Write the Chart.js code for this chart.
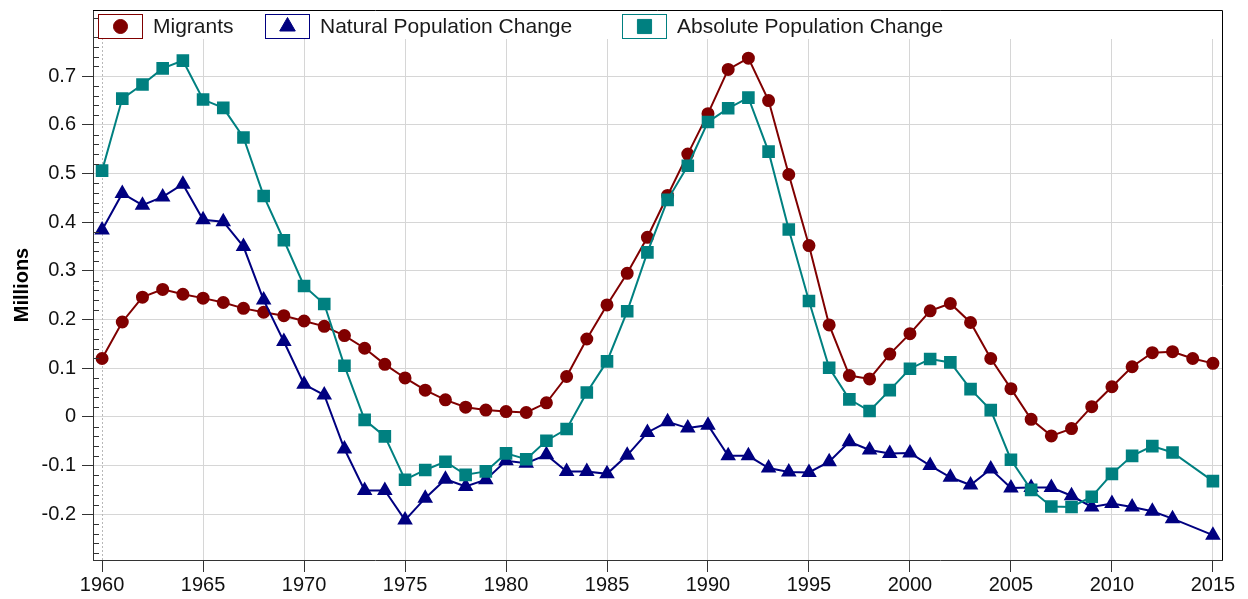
<!DOCTYPE html>
<html><head><meta charset="utf-8">
<script src="https://cdn.jsdelivr.net/npm/chart.js@4/dist/chart.umd.min.js"></script>
<style>html,body{margin:0;padding:0;background:#fff;}</style>
</head><body>
<canvas id="c" width="1248" height="599"></canvas>
<script>
const years = [1960,1961,1962,1963,1964,1965,1966,1967,1968,1969,1970,1971,1972,1973,1974,1975,1976,1977,1978,1979,1980,1981,1982,1983,1984,1985,1986,1987,1988,1989,1990,1991,1992,1993,1994,1995,1996,1997,1998,1999,2000,2001,2002,2003,2004,2005,2006,2007,2008,2009,2010,2011,2012,2013,2014,2015];
const migrants = [0.120,0.195,0.246,0.262,0.252,0.244,0.235,0.223,0.215,0.208,0.197,0.186,0.167,0.141,0.108,0.080,0.055,0.035,0.020,0.014,0.011,0.009,0.029,0.083,0.160,0.230,0.295,0.369,0.455,0.540,0.623,0.714,0.737,0.650,0.498,0.352,0.189,0.085,0.078,0.129,0.171,0.218,0.233,0.194,0.120,0.058,-0.005,-0.039,-0.024,0.021,0.062,0.103,0.132,0.134,0.120,0.110];
const naturalChange = [0.384,0.459,0.435,0.452,0.478,0.405,0.401,0.350,0.240,0.155,0.067,0.045,-0.066,-0.151,-0.151,-0.212,-0.167,-0.128,-0.143,-0.129,-0.090,-0.095,-0.078,-0.112,-0.112,-0.117,-0.079,-0.032,-0.010,-0.023,-0.017,-0.080,-0.080,-0.105,-0.113,-0.114,-0.092,-0.051,-0.068,-0.075,-0.074,-0.100,-0.124,-0.140,-0.107,-0.146,-0.145,-0.145,-0.162,-0.185,-0.178,-0.185,-0.194,-0.209,null,-0.243];
const absoluteChange = [0.506,0.654,0.683,0.716,0.732,0.652,0.635,0.574,0.454,0.363,0.269,0.232,0.105,-0.006,-0.040,-0.129,-0.109,-0.092,-0.119,-0.112,-0.075,-0.087,-0.049,-0.025,0.050,0.114,0.217,0.338,0.446,0.516,0.606,0.634,0.656,0.545,0.385,0.238,0.101,0.036,0.012,0.055,0.099,0.119,0.112,0.057,0.014,-0.088,-0.150,-0.184,-0.185,-0.164,-0.117,-0.080,-0.060,-0.073,null,-0.132];
const seriesLabels = ['Migrants','Natural Population Change','Absolute Population Change'];
const xTickValues = [1960,1965,1970,1975,1980,1985,1990,1995,2000,2005,2010,2015];
const yTickValues = [-0.2,-0.1,0,0.1,0.2,0.3,0.4,0.5,0.6,0.7];
const yTitle = 'Millions';

const FONT = "'Liberation Sans', Arial, sans-serif";
const toPts = arr => years.map((y,i) => ({x:y, y:arr[i]}));

const frame = {
  id:'frame',
  beforeDatasetsDraw(chart){
    const {ctx, chartArea:a, scales} = chart;
    ctx.save();
    const x0 = Math.round(scales.x.getPixelForValue(1960))+0.5;
    ctx.strokeStyle = '#b8b8b8'; ctx.lineWidth = 1; ctx.setLineDash([2,2]);
    ctx.beginPath(); ctx.moveTo(x0, a.top); ctx.lineTo(x0, a.bottom); ctx.stroke();
    ctx.setLineDash([]);
    ctx.fillStyle = '#fff';
    ctx.fillRect(a.left+1, a.top+1, a.right-a.left-2, 28);
    ctx.restore();
  },
  afterDraw(chart){
    const {ctx, chartArea:a, scales} = chart;
    ctx.save();
    ctx.strokeStyle = '#000'; ctx.lineWidth = 1;
    ctx.beginPath();
    ctx.moveTo(a.left, Math.round(a.top)+0.5); ctx.lineTo(Math.round(a.right)+0.5, Math.round(a.top)+0.5);
    ctx.lineTo(Math.round(a.right)+0.5, a.bottom);
    ctx.stroke();
    ctx.strokeStyle = '#333';
    for (let k = -14; k <= 41; k++) {
      if (k % 5 === 0) continue;
      const v = k*0.02;
      const y = Math.round(scales.y.getPixelForValue(v))+0.5;
      if (y < a.top || y > a.bottom) continue;
      ctx.beginPath(); ctx.moveTo(a.left, y); ctx.lineTo(a.left+6, y); ctx.stroke();
    }
    const boxX = [98, 265, 622];
    const ds = chart.data.datasets;
    ctx.font = '21px ' + FONT;
    ctx.textBaseline = 'middle';
    ds.forEach((d,i) => {
      const bx = boxX[i], by = a.top + 4, bw = 44, bh = 24;
      ctx.fillStyle = '#fff';
      ctx.fillRect(bx, by, bw, bh);
      ctx.strokeStyle = d.borderColor; ctx.lineWidth = 1;
      ctx.strokeRect(bx+0.5, by+0.5, bw, bh);
      const cx = bx + bw/2 + 0.5, cy = by + bh/2 + 0.5;
      ctx.fillStyle = d.borderColor;
      Chart.helpers.drawPoint(ctx, {pointStyle: d.pointStyle, borderWidth: 1, rotation: 0, radius: d.legendRadius}, cx, cy);
      ctx.fillStyle = '#1a1a1a';
      ctx.fillText(d.label, bx + bw + 11, by + bh/2 + 1);
    });
    ctx.restore();
  }
};

new Chart(document.getElementById('c'), {
  type: 'line',
  data: {
    datasets: [
      {label: seriesLabels[0], data: toPts(migrants), borderColor:'#800000', backgroundColor:'#800000', pointBackgroundColor:'#800000', pointBorderColor:'#800000', pointStyle:'circle', pointRadius:5.5, legendRadius:7, borderWidth:2, order:2},
      {label: seriesLabels[1], data: toPts(naturalChange), borderColor:'#000080', backgroundColor:'#000080', pointBackgroundColor:'#000080', pointBorderColor:'#000080', pointStyle:'triangle', pointRadius:7, legendRadius:9, borderWidth:2, order:1},
      {label: seriesLabels[2], data: toPts(absoluteChange), borderColor:'#008080', backgroundColor:'#008080', pointBackgroundColor:'#008080', pointBorderColor:'#008080', pointStyle:'rect', pointRadius:7.5, legendRadius:10, borderWidth:2, order:0}
    ]
  },
  options: {
    responsive: false,
    animation: false,
    devicePixelRatio: 1,
    spanGaps: true,
    layout: {padding: {top:10, right:26, left:0, bottom:0}},
    plugins: {legend:{display:false}, tooltip:{enabled:false}},
    elements: {line:{tension:0}, point:{borderWidth:1}},
    scales: {
      x: {
        type:'linear', min:1959.55, max:2015.45,
        afterBuildTicks: s => { s.ticks = xTickValues.map(v => ({value:v})); },
        afterFit: s => { s.height = 39; s.paddingLeft = 0; s.paddingRight = 0; },
        ticks: {font:{family:FONT, size:20}, color:'#111', padding:1, maxRotation:0, autoSkip:false, callback: v => String(v)},
        grid: {color: c => (c.tick && c.tick.value === 1960) ? 'rgba(0,0,0,0)' : '#d6d6d6', tickColor:'#333', tickLength:12, lineWidth:1},
        border: {color:'#333', width:1}
      },
      y: {
        min:-0.294, max:0.836,
        afterBuildTicks: s => { s.ticks = yTickValues.map(v => ({value:v})); },
        afterFit: s => { s.width = 93; s.paddingTop = 0; s.paddingBottom = 0; },
        ticks: {font:{family:FONT, size:20}, color:'#111', padding:6, callback: v => String(Math.round(v*10)/10)},
        grid: {color:'#d6d6d6', tickColor:'#333', tickLength:11, lineWidth:1},
        border: {color:'#333', width:1},
        title: {display:true, text:yTitle, font:{family:FONT, size:20, weight:'bold'}, color:'#000', padding:{top:10, bottom:0}}
      }
    }
  },
  plugins: [frame]
});
</script>
</body></html>
